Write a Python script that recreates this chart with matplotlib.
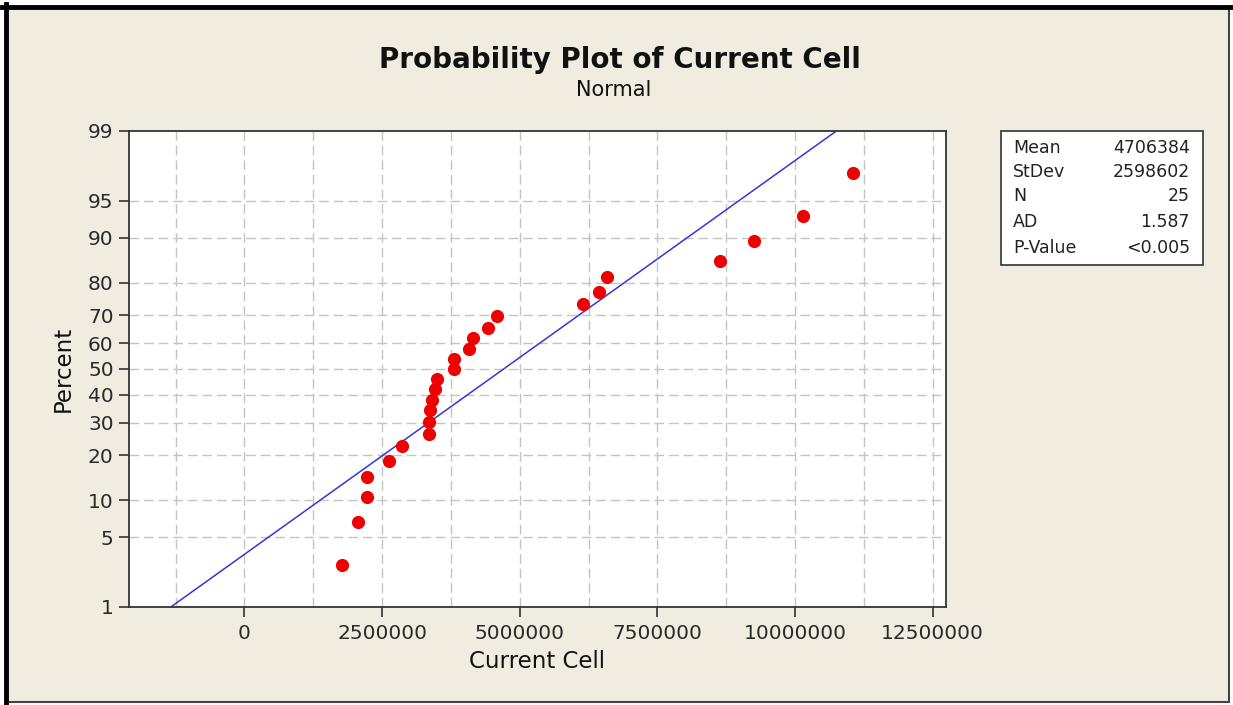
import numpy as np
import matplotlib
matplotlib.use("Agg")
import matplotlib.pyplot as plt
from matplotlib.patches import Rectangle
from matplotlib.lines import Line2D
from statistics import NormalDist

# ---------------- data ----------------
current_cell = [1766000, 2067000, 2225000, 2225000, 2630000, 2856000, 3346000,
                3346000, 3375000, 3401000, 3461000, 3497000, 3806000, 3806000,
                4078000, 4145000, 4418000, 4581000, 6154000, 6434000, 6590000,
                8632000, 9250000, 10151000, 11048000]
percent = [2.756, 6.693, 10.630, 14.567, 18.504, 22.441, 26.378, 30.315, 34.252,
           38.189, 42.126, 46.063, 50.000, 53.937, 57.874, 61.811, 65.748, 69.685,
           73.622, 77.559, 81.496, 85.433, 89.370, 93.307, 97.244]
mean_val = 4706384
sd_val = 2598602
stats_labels = ["Mean", "StDev", "N", "AD", "P-Value"]
stats_values = ["4706384", "2598602", "25", "1.587", "<0.005"]
y_ticks = [1, 5, 10, 20, 30, 40, 50, 60, 70, 80, 90, 95, 99]
x_ticks = [0, 2500000, 5000000, 7500000, 10000000, 12500000]
x_tick_labels = ["0", "2500000", "5000000", "7500000", "10000000", "12500000"]
line_percent = [1, 99]

W, H = 1233, 705
BG = "#F1ECE0"

nd = NormalDist()
_fwd = np.vectorize(lambda v: nd.inv_cdf(min(max(v / 100.0, 1e-9), 1 - 1e-9)), otypes=[float])
_inv = np.vectorize(lambda z: nd.cdf(z) * 100.0, otypes=[float])

fig = plt.figure(figsize=(W / 100, H / 100), dpi=100, facecolor="white")

def fx(px):
    return px / W

def fy(py):
    return 1 - py / H

# background frame
fig.patches.append(Rectangle((fx(6), fy(702)), fx(1229) - fx(6), fy(8) - fy(702),
                             transform=fig.transFigure, facecolor=BG,
                             edgecolor="#444444", lw=1.5, zorder=-2))
fig.lines.append(Line2D([fx(6), fx(6)], [fy(4), fy(703)], transform=fig.transFigure,
                        color="black", lw=3.5, zorder=-1))
fig.lines.append(Line2D([fx(2), fx(1231)], [fy(7), fy(7)], transform=fig.transFigure,
                        color="black", lw=3.5, zorder=-1))

ax = fig.add_axes([fx(129), fy(607), fx(946) - fx(129), fy(131) - fy(607)])
ax.set_zorder(1)
ax.set_facecolor("white")
ax.set_yscale("function", functions=(_fwd, _inv))
ax.set_ylim(1, 99)
ax.set_xlim(-2098000, 12743000)

# grid
for gx in np.arange(-1250000, 12500001, 1250000):
    ax.axvline(gx, color="#C4C4C4", lw=1.0, dashes=(7, 3.5), zorder=1)
for gy in y_ticks[1:-1]:
    ax.axhline(gy, color="#C4C4C4", lw=1.0, dashes=(7, 3.5), zorder=1)

# fitted line
line_x = [mean_val + sd_val * nd.inv_cdf(p / 100.0) for p in line_percent]
ax.plot(line_x, line_percent, color="#3535DA", lw=1.1, zorder=2)

# points
ax.plot(current_cell, percent, "o", color="#EE0000", markersize=9.5,
        markeredgewidth=0, zorder=3)

ax.set_yticks(y_ticks)
ax.set_yticklabels([str(t) for t in y_ticks])
ax.yaxis.set_minor_locator(matplotlib.ticker.NullLocator())
ax.set_xticks(x_ticks)
ax.set_xticklabels(x_tick_labels)
ax.tick_params(axis="both", direction="out", length=7, width=1.2, color="#333333",
               labelsize=14.5, labelcolor="#2a2a2a")
ax.tick_params(axis="x", pad=5)
ax.tick_params(axis="y", pad=4)
for s in ax.spines.values():
    s.set_color("#333333")
    s.set_linewidth(1.3)

# labels
fig.text(fx(620), fy(60), "Probability Plot of Current Cell", ha="center", va="center",
         fontsize=20, fontweight="bold", color="#111111")
fig.text(fx(614), fy(90), "Normal", ha="center", va="center", fontsize=15, color="#111111")
fig.text(fx(537), fy(661), "Current Cell", ha="center", va="center", fontsize=16.5,
         color="#111111")
fig.text(fx(63), fy(369), "Percent", ha="center", va="center", rotation=90,
         fontsize=16.5, color="#111111")

# stats box
fig.patches.append(Rectangle((fx(1001), fy(265)), fx(1203) - fx(1001), fy(131) - fy(265),
                             transform=fig.transFigure, facecolor="white",
                             edgecolor="#333333", lw=1.2, zorder=2))
row_y = [148, 172, 196, 222, 248]
for lab, val, ry in zip(stats_labels, stats_values, row_y):
    fig.text(fx(1013), fy(ry), lab, ha="left", va="center", fontsize=12.5,
             color="#222222", zorder=3)
    fig.text(fx(1190), fy(ry), val, ha="right", va="center", fontsize=12.5,
             color="#222222", zorder=3)

fig.savefig("out.png", dpi=100, facecolor=fig.get_facecolor())
